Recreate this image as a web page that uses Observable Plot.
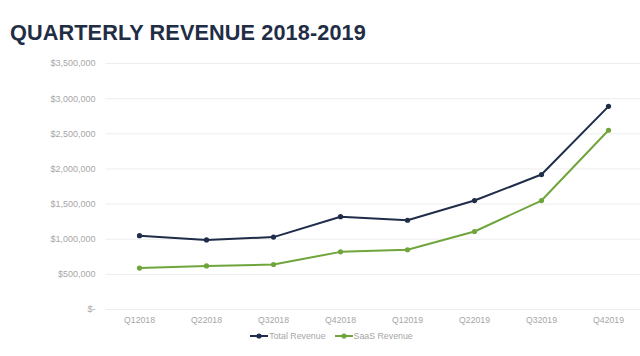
<!DOCTYPE html>
<html><head><meta charset="utf-8">
<script src="https://cdn.jsdelivr.net/npm/d3@7"></script>
<script src="https://cdn.jsdelivr.net/npm/@observablehq/plot@0.6"></script>
<style>
body{margin:0;background:#fff;font-family:"Liberation Sans",Arial,sans-serif;}
#title{height:50px;box-sizing:border-box;padding:21px 0 0 10px;font-size:21.7px;font-weight:bold;color:#1f2d45;line-height:24px;letter-spacing:0.1px;}
#legend{height:20px;display:flex;justify-content:center;align-items:center;gap:8px;font-size:8.8px;color:#a6a6a6;padding-left:22px;margin-top:-4px}
#legend span{display:flex;align-items:center;gap:0px}
</style></head><body>
<div id="title">QUARTERLY REVENUE 2018-2019</div>
<div id="chart"></div>
<div id="legend"></div>
<script>
const quarters = ["Q12018","Q22018","Q32018","Q42018","Q12019","Q22019","Q32019","Q42019"];
const totalRevenue = [1050000, 990000, 1030000, 1320000, 1270000, 1550000, 1920000, 2890000];
const saasRevenue = [590000, 620000, 640000, 820000, 850000, 1110000, 1550000, 2550000];
const yTicks = [0, 500000, 1000000, 1500000, 2000000, 2500000, 3000000, 3500000];
const seriesNames = ["Total Revenue", "SaaS Revenue"];
const colors = ["#1f2d4a", "#6fa53c"];

const data = [];
quarters.forEach((q, i) => {
  data.push({q, v: totalRevenue[i], s: seriesNames[0]});
  data.push({q, v: saasRevenue[i], s: seriesNames[1]});
});

const fmt = d => d === 0 ? "$-" : "$" + d3.format(",")(d);

const chart = Plot.plot({
  width: 640, height: 280,
  marginLeft: 105.5, marginRight: -1.5, marginTop: 13, marginBottom: 21,
  style: {fontFamily: "'Liberation Sans', Arial, sans-serif", fontSize: "9px", color: "#a6a6a6", background: "#fff", overflow: "visible"},
  x: {type: "point", domain: quarters, padding: 0.5, label: null},
  y: {domain: [0, 3500000], label: null},
  color: {domain: seriesNames, range: colors},
  marks: [
    Plot.ruleY(yTicks, {stroke: "#ededed", strokeWidth: 1}),
    Plot.axisY({ticks: yTicks, tickFormat: fmt, tickSize: 0, tickPadding: 10.5, fill: "#a6a6a6", label: null}),
    Plot.axisX({tickSize: 0, tickPadding: 7, fill: "#a6a6a6", label: null, fontSize: 8.7}),
    Plot.line(data, {x: "q", y: "v", stroke: "s", strokeWidth: 2}),
    Plot.dot(data, {x: "q", y: "v", fill: "s", r: 2.6})
  ]
});
document.getElementById("chart").appendChild(chart);

const leg = document.getElementById("legend");
seriesNames.forEach((n, i) => {
  const sp = document.createElement("span");
  sp.innerHTML = `<svg width="20" height="8"><line x1="1" y1="4" x2="19" y2="4" stroke="${colors[i]}" stroke-width="2"/><circle cx="10" cy="4" r="2.6" fill="${colors[i]}"/></svg>${n}`;
  leg.appendChild(sp);
});
</script>
</body></html>
